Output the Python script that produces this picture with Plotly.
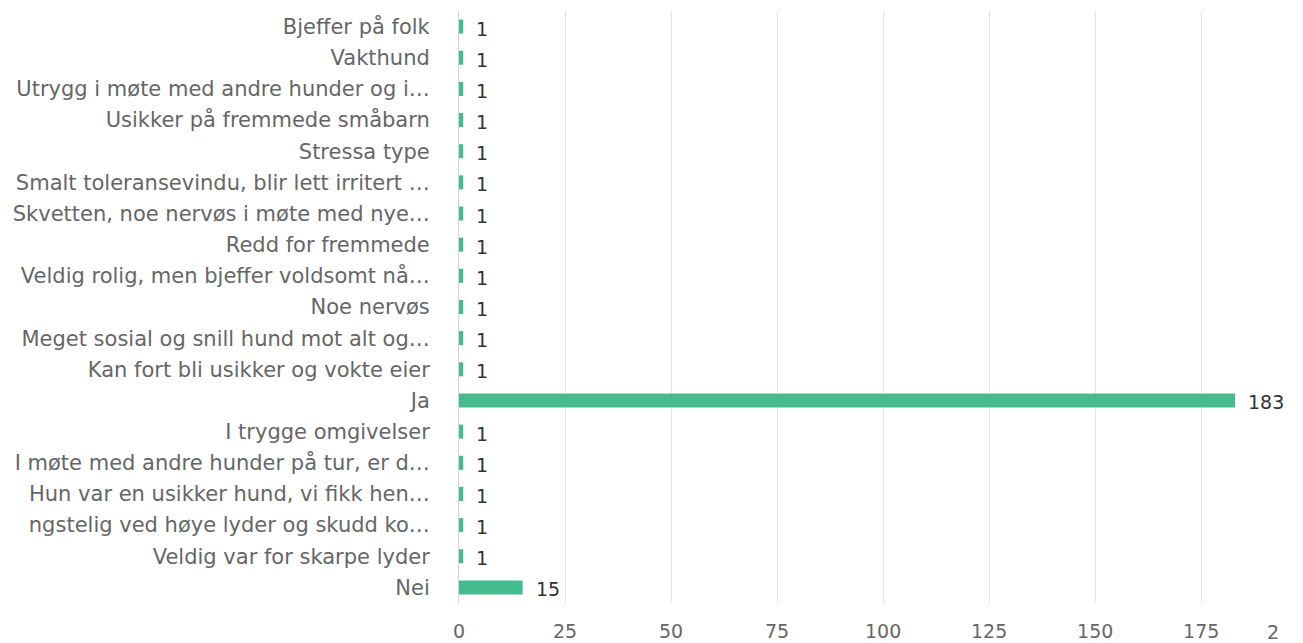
import plotly.graph_objects as go

categories = [
    "Bjeffer på folk",
    "Vakthund",
    "Utrygg i møte med andre hunder og i…",
    "Usikker på fremmede småbarn",
    "Stressa type",
    "Smalt toleransevindu, blir lett irritert …",
    "Skvetten, noe nervøs i møte med nye…",
    "Redd for fremmede",
    "Veldig rolig, men bjeffer voldsomt nå…",
    "Noe nervøs",
    "Meget sosial og snill hund mot alt og…",
    "Kan fort bli usikker og vokte eier",
    "Ja",
    "I trygge omgivelser",
    "I møte med andre hunder på tur, er d…",
    "Hun var en usikker hund, vi fikk hen…",
    "ngstelig ved høye lyder og skudd ko…",
    "Veldig var for skarpe lyder",
    "Nei",
]
values = [1, 1, 1, 1, 1, 1, 1, 1, 1, 1, 1, 1, 183, 1, 1, 1, 1, 1, 15]
tick_values = [0, 25, 50, 75, 100, 125, 150, 175]
tick_labels = ["0", "25", "50", "75", "100", "125", "150", "175"]
clipped_last_tick = "2"

FONT = "DejaVu Sans"

fig = go.Figure(
    go.Bar(
        x=values,
        y=categories,
        orientation="h",
        marker=dict(color="#46BB8F", line=dict(width=0)),
        hoverinfo="x+y",
    )
)

for c, v in zip(categories, values):
    fig.add_annotation(
        x=v, y=c, xref="x", yref="y",
        text=str(v), showarrow=False,
        xanchor="left", yanchor="middle",
        xshift=11, yshift=-2,
        font=dict(family=FONT, size=19, color="#333333"),
    )

fig.add_annotation(
    x=1, y=0, xref="paper", yref="paper",
    text=clipped_last_tick, showarrow=False,
    xanchor="right", yanchor="top",
    xshift=-22, yshift=-16,
    font=dict(family=FONT, size=19, color="#666666"),
)

fig.update_layout(
    width=1295,
    height=635,
    margin=dict(l=451, r=0, t=3, b=40, pad=0, autoexpand=False),
    paper_bgcolor="white",
    plot_bgcolor="white",
    bargap=0.55,
    showlegend=False,
    font=dict(family=FONT, size=19, color="#666666"),
)

fig.update_xaxes(
    range=[0, 199],
    tickvals=tick_values,
    ticktext=tick_labels,
    showgrid=True,
    gridcolor="#e6e6e6",
    gridwidth=1,
    zeroline=False,
    showline=False,
    ticks="",
    ticklabelstandoff=15,
    automargin=False,
    tickfont=dict(family=FONT, size=19, color="#666666"),
    fixedrange=True,
)

fig.update_yaxes(
    autorange="reversed",
    showgrid=False,
    zeroline=False,
    showline=True,
    linecolor="#ccd6eb",
    linewidth=1,
    ticks="",
    ticklabelstandoff=24,
    automargin=False,
    tickfont=dict(family=FONT, size=21, color="#666666"),
    fixedrange=True,
)

fig.write_html("out.html")
